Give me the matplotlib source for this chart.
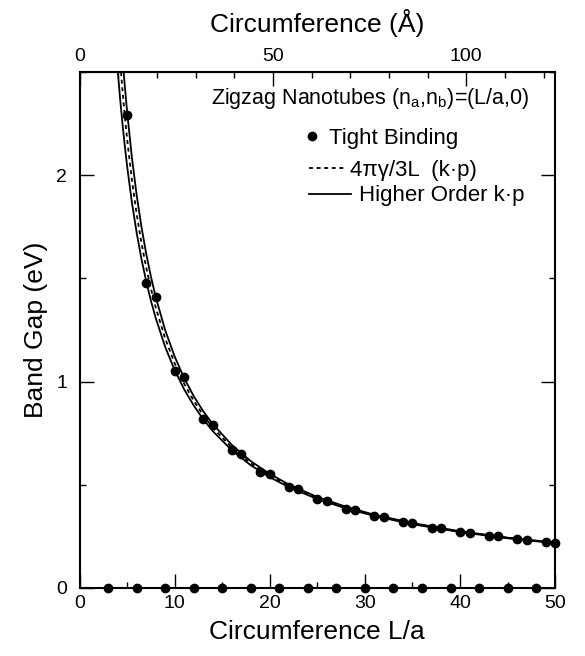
import matplotlib
matplotlib.use("Agg")
import matplotlib.pyplot as plt
from matplotlib.legend import Legend
from matplotlib.lines import Line2D
from matplotlib.ticker import MultipleLocator

plt.rcParams['font.family'] = ['Liberation Sans', 'DejaVu Sans']
plt.rcParams['mathtext.default'] = 'regular'

# lattice constant (A) for the top axis
A_CC = 2.46

# tight binding points, metallic tubes (L/a multiple of 3) sit at zero
tb_x = [5, 7, 8, 10, 11, 13, 14, 16, 17, 19, 20, 22, 23, 25, 26, 28, 29,
        31, 32, 34, 35, 37, 38, 40, 41, 43, 44, 46, 47, 49, 50]
tb_gap = [2.29, 1.48, 1.41, 1.05, 1.02, 0.82, 0.79, 0.67, 0.65, 0.56, 0.55,
          0.49, 0.48, 0.43, 0.42, 0.384, 0.379, 0.348, 0.343, 0.317, 0.314,
          0.292, 0.289, 0.270, 0.267, 0.251, 0.249, 0.235, 0.233, 0.221, 0.219]
metal_x = [3, 6, 9, 12, 15, 18, 21, 24, 27, 30, 33, 36, 39, 42, 45, 48]
metal_gap = [0] * len(metal_x)

# curves
curve_x = [4.0, 4.25, 4.5, 4.75, 5, 5.5, 6, 6.5, 7, 7.5, 8, 9, 10, 11, 12,
           13, 14, 16, 18, 20, 22, 25, 28, 31, 35, 40, 45, 50]
kp_gap = [2.72, 2.560, 2.418, 2.291, 2.176, 1.978, 1.813, 1.674, 1.554,
          1.451, 1.360, 1.209, 1.088, 0.989, 0.907, 0.837, 0.777, 0.680,
          0.604, 0.544, 0.495, 0.435, 0.389, 0.351, 0.311, 0.272, 0.242, 0.218]
hi_upper = [2.926, 2.742, 2.580, 2.436, 2.308, 2.087, 1.905, 1.752, 1.621,
            1.509, 1.411, 1.249, 1.121, 1.016, 0.929, 0.856, 0.794, 0.693,
            0.614, 0.552, 0.501, 0.440, 0.393, 0.354, 0.314, 0.274, 0.243, 0.219]
hi_lower = [2.514, 2.378, 2.255, 2.145, 2.044, 1.869, 1.722, 1.596, 1.487,
            1.392, 1.309, 1.168, 1.055, 0.962, 0.884, 0.817, 0.760, 0.667,
            0.594, 0.536, 0.488, 0.430, 0.385, 0.348, 0.308, 0.270, 0.240, 0.216]

DASH = (0, (2.2, 2.0))

fig = plt.figure(figsize=(5.85, 6.56), dpi=100)
ax = fig.add_axes([0.136, 0.104, 0.813, 0.786])

# theory curves
ax.plot(curve_x, hi_upper, color='black', lw=1.3)
ax.plot(curve_x, hi_lower, color='black', lw=1.3)
ax.plot(curve_x, kp_gap, color='black', lw=1.3, ls=DASH)

# tight binding
ax.plot(tb_x, tb_gap, 'o', color='black', ms=6, clip_on=False, zorder=5)
ax.plot(metal_x, metal_gap, 'o', color='black', ms=6, clip_on=False, zorder=5)

ax.set_xlim(0, 50)
ax.set_ylim(0, 2.5)
ax.xaxis.set_major_locator(MultipleLocator(10))
ax.xaxis.set_minor_locator(MultipleLocator(5))
ax.yaxis.set_major_locator(MultipleLocator(1))
ax.yaxis.set_minor_locator(MultipleLocator(0.5))
ax.tick_params(which='both', direction='in', right=True, top=False,
               width=1.0, labelsize=14)
ax.tick_params(axis='x', pad=5)
ax.tick_params(axis='y', pad=9)
ax.tick_params(which='major', length=10)
ax.tick_params(which='minor', length=4.5)
for s in ax.spines.values():
    s.set_linewidth(1.5)

ax.set_xlabel("Circumference L/a", fontsize=19, labelpad=6)
ax.set_ylabel("Band Gap (eV)", fontsize=19, labelpad=6)

# top axis in Angstrom
top = ax.secondary_xaxis('top', functions=(lambda x: x * A_CC, lambda x: x / A_CC))
top.set_xticks([0, 50, 100])
top.xaxis.set_minor_locator(MultipleLocator(10))
top.tick_params(which='both', direction='in', width=1.0, labelsize=14, pad=5)
top.tick_params(which='major', length=10)
top.tick_params(which='minor', length=4.5)
top.set_xlabel("Circumference (Å)", fontsize=19, labelpad=12)

# legend: title line plus three separately placed entries
ax.text(0.945, 0.948, "Zigzag Nanotubes (n$_a$,n$_b$)=(L/a,0)", transform=ax.transAxes,
        ha='right', va='center', fontsize=15.5)
entries = [
    (Line2D([], [], marker='o', ls='none', color='black', ms=6),
     "Tight Binding", 0.4685, 0.872, 0.9, 0.3),
    (Line2D([], [], color='black', lw=1.3, ls=DASH),
     "4πγ/3L  (k·p)", 0.483, 0.810, 1.67, 0.18),
    (Line2D([], [], color='black', lw=1.3),
     "Higher Order k·p", 0.483, 0.760, 1.9, 0.36),
]
for handle, label, lx, ly, hl, pad in entries:
    leg = Legend(ax, [handle], [label], loc='center left', bbox_to_anchor=(lx, ly),
                 frameon=False, fontsize=16, handlelength=hl, handletextpad=pad,
                 borderpad=0.0, borderaxespad=0.0)
    ax.add_artist(leg)

fig.savefig("out.png", dpi=100)
